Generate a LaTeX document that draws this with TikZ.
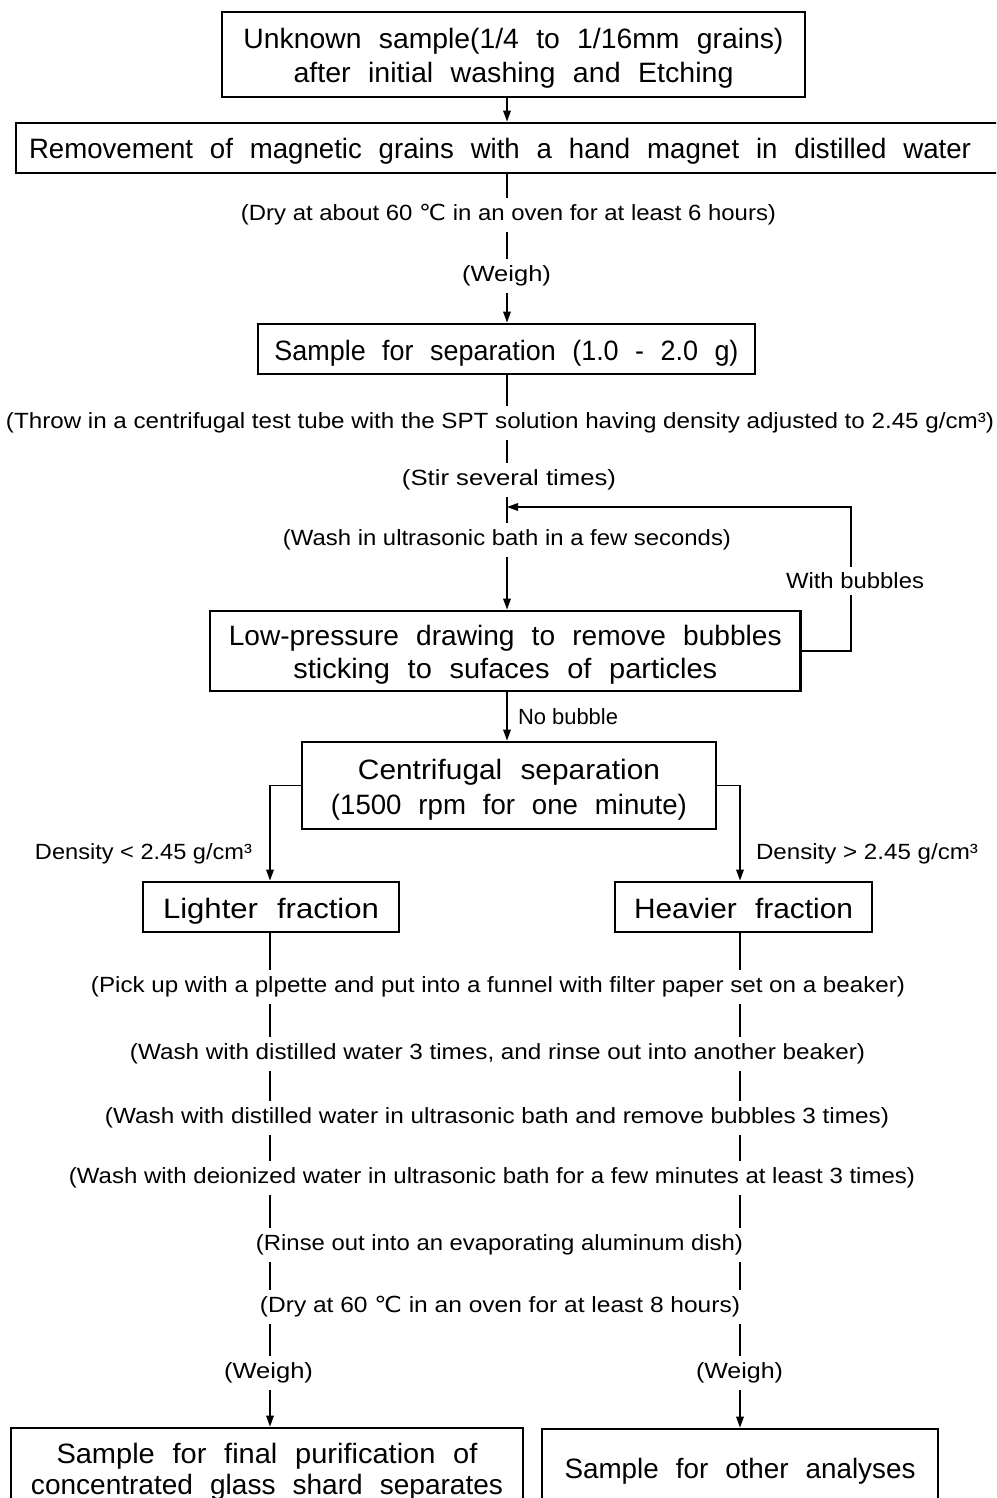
\documentclass[tikz,border=0pt]{standalone}
\usepackage{fontspec}
\usepackage{graphicx}
\setmainfont{Liberation Sans}
\newfontfamily\boxfont[WordSpace=2.2]{Liberation Sans}
\newfontfamily\symfont{DejaVu Sans}
\usetikzlibrary{arrows.meta}
\newlength\pxu
\setlength\pxu{0.5pt}
\newcommand\fw[2]{\resizebox{#1\pxu}{\height}{#2}}
\newcommand\degC{{\symfont ℃}}
\newcommand\bs{\rule[-3.4pt]{0pt}{17.8pt}}
\begin{document}
\setlength\lineskiplimit{-20pt}
\begin{tikzpicture}[x=0.5pt,y=-0.5pt,
  boxnode/.style={draw, line width=1.4pt, inner sep=0pt, align=center,
    font=\boxfont\fontsize{14}{17}\selectfont},
  lbl/.style={fill=white, inner xsep=1pt, inner ysep=3.2pt,
    font=\fontsize{11}{13}\selectfont},
  plainlbl/.style={inner sep=0pt, font=\fontsize{11}{13}\selectfont},
  conn/.style={line width=0.7pt},
  arr/.style={conn, -{Triangle[length=5.5pt,width=3.8pt]}}]
\useasboundingbox (0,0) rectangle (996,1498);
\clip (0,0) rectangle (996,1498);

% boxes
\node[boxnode, minimum width=291.5pt, minimum height=42.5pt] (b1) at (513.5,54.5)
  {\bs\fw{540}{Unknown sample(1/4 to 1/16mm grains)}\\\bs\fw{440}{after initial washing and Etching}};
\node[boxnode, minimum width=493.5pt, minimum height=25pt] (b2) at (509.5,148)
  {\bs\fw{942}{Removement of magnetic grains with a hand magnet in distilled water}\hspace*{19\pxu}};
\node[boxnode, minimum width=248.5pt, minimum height=25pt] (b3) at (506.5,349)
  {\bs\fw{464}{Sample for separation (1.0 - 2.0 g)}};
\node[boxnode, minimum width=295.25pt, minimum height=40pt] (b4) at (505.25,651)
  {\bs\fw{553}{Low-pressure drawing to remove bubbles}\\[-0.5pt]\bs\fw{424}{sticking to sufaces of particles}};
\node[boxnode, minimum width=207pt, minimum height=43.5pt] (b5) at (509,785.5)
  {\bs\fw{302}{Centrifugal separation}\\[0.5pt]\bs\fw{356}{(1500 rpm for one minute)}};
\node[boxnode, minimum width=128pt, minimum height=25pt] (light) at (271,907)
  {\bs\fw{216}{Lighter fraction}};
\node[boxnode, minimum width=128.5pt, minimum height=25pt] (heavy) at (743.5,907)
  {\bs\fw{219}{Heavier fraction}};
\node[boxnode, minimum width=256pt, minimum height=39.5pt] (bl) at (267,1467.5)
  {\bs\fw{421}{Sample for final purification of}\\[-1.5pt]\bs\fw{472}{concentrated glass shard separates}};
\node[boxnode, minimum width=198pt, minimum height=38pt] (br) at (740,1467)
  {\bs\fw{351}{Sample for other analyses}};

% connectors
\coordinate (cx) at (507,0);
\coordinate (lx) at (270,0);
\coordinate (hx) at (740,0);
\coordinate (fbc) at (851,507);
\coordinate (fbt) at (507,507);
\draw[arr] (b1.south -| cx) -- (b2.north -| cx);
\draw[arr] (b2.south -| cx) -- (b3.north -| cx);
\draw[arr] (b3.south -| cx) -- (b4.north -| cx);
\draw[arr] (b4.south -| cx) -- (b5.north -| cx);
\draw[arr] (b4.east) -| (fbc) -- (fbt);
\draw[arr] (b5.west) -| (light.north -| lx);
\draw[arr] (b5.east) -| (heavy.north -| hx);
\draw[arr] (light.south -| lx) -- (bl.north -| lx);
\draw[arr] (heavy.south -| hx) -- (br.north -| hx);

% labels
\node[lbl] (dry1) at (508.5,215) {\fw{535}{(Dry at about 60 \degC\ in an oven for at least 6 hours)}};
\node[lbl] (weigh1) at (506.5,276) {\fw{89}{(Weigh)}};
\node[lbl] (throw) at (500,423) {\fw{988}{(Throw in a centrifugal test tube with the SPT solution having density adjusted to 2.45 g/cm³)}};
\node[lbl] (stir) at (509,480) {\fw{214}{(Stir several times)}};
\node[lbl] (washu) at (507,540) {\fw{448}{(Wash in ultrasonic bath in a few seconds)}};
\node[lbl] (withb) at (855,581) {\fw{138}{With bubbles}};
\node[plainlbl] (nobub) at (568,717) {\fw{100}{No bubble}};
\node[plainlbl] (densl) at (143.5,854) {\fw{217}{Density < 2.45 g/cm³}};
\node[plainlbl] (densh) at (867,854) {\fw{222}{Density > 2.45 g/cm³}};
\node[lbl] (pick) at (498,987) {\fw{814}{(Pick up with a plpette and put into a funnel with filter paper set on a beaker)}};
\node[lbl] (wash3) at (497.5,1054) {\fw{735}{(Wash with distilled water 3 times, and rinse out into another beaker)}};
\node[lbl] (washb) at (497,1118) {\fw{784}{(Wash with distilled water in ultrasonic bath and remove bubbles 3 times)}};
\node[lbl] (washd) at (492,1178) {\fw{846}{(Wash with deionized water in ultrasonic bath for a few minutes at least 3 times)}};
\node[lbl] (rinse) at (499.5,1245) {\fw{487}{(Rinse out into an evaporating aluminum dish)}};
\node[lbl] (dry2) at (500,1307) {\fw{480}{(Dry at 60 \degC\ in an oven for at least 8 hours)}};
\node[lbl] (weighl) at (268.5,1373) {\fw{89}{(Weigh)}};
\node[lbl] (weighr) at (739.5,1373) {\fw{87}{(Weigh)}};
\end{tikzpicture}
\end{document}
